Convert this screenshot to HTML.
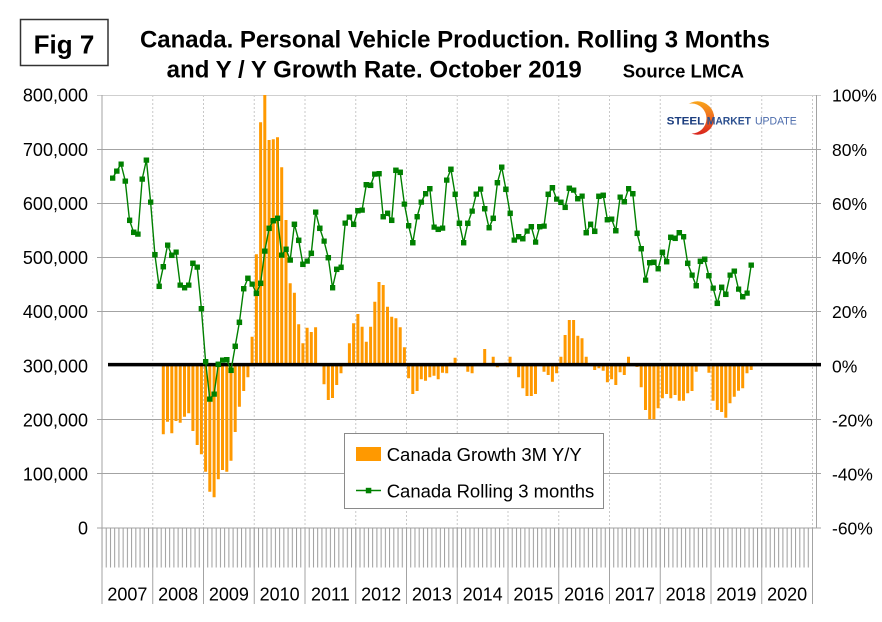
<!DOCTYPE html>
<html><head><meta charset="utf-8"><style>
html,body{margin:0;padding:0;background:#fff;}
svg{display:block;font-family:"Liberation Sans",Arial,sans-serif;}
</style></head><body>
<svg width="882" height="622" viewBox="0 0 882 622" xmlns="http://www.w3.org/2000/svg">
<defs>
<pattern id="mt" x="101.5" y="0" width="4.2292" height="200" patternUnits="userSpaceOnUse"><rect x="0" y="0" width="1" height="200" fill="#9c9c9c"/></pattern>
<marker id="sq" markerWidth="6" markerHeight="6" refX="2.75" refY="2.75" markerUnits="userSpaceOnUse"><rect x="0" y="0" width="5.5" height="5.5" fill="#008000"/></marker>
<linearGradient id="lg" x1="0" y1="0" x2="0" y2="1"><stop offset="0" stop-color="#f9a51a"/><stop offset="0.5" stop-color="#ef6a1f"/><stop offset="1" stop-color="#d8231d"/></linearGradient>
<mask id="cm"><rect x="670" y="95" width="60" height="50" fill="#fff"/><circle cx="691.5" cy="118.5" r="15" fill="#000"/></mask>
</defs>
<rect width="882" height="622" fill="#fff"/>

<!-- Fig box -->
<rect x="20.5" y="19.5" width="87.5" height="46" fill="none" stroke="#333" stroke-width="1.5"/>
<text x="64" y="53.5" font-size="26" font-weight="bold" text-anchor="middle" fill="#000">Fig 7</text>

<!-- Title -->
<text x="140" y="47.3" font-size="24" font-weight="bold" fill="#000" textLength="630" lengthAdjust="spacingAndGlyphs">Canada. Personal Vehicle Production. Rolling 3 Months</text>
<text x="166.7" y="77.3" font-size="24" font-weight="bold" fill="#000" textLength="415" lengthAdjust="spacingAndGlyphs">and Y / Y Growth Rate. October 2019</text>
<text x="622.7" y="77.3" font-size="18.5" font-weight="bold" fill="#000" textLength="121.3" lengthAdjust="spacingAndGlyphs">Source LMCA</text>

<!-- vertical dotted gridlines -->
<g stroke="#c8c8c8" stroke-width="1" stroke-dasharray="2,2">
<line x1="152.75" y1="95" x2="152.75" y2="528"/><line x1="203.5" y1="95" x2="203.5" y2="528"/><line x1="254.25" y1="95" x2="254.25" y2="528"/><line x1="305" y1="95" x2="305" y2="528"/><line x1="355.75" y1="95" x2="355.75" y2="528"/><line x1="406.5" y1="95" x2="406.5" y2="528"/><line x1="457.25" y1="95" x2="457.25" y2="528"/><line x1="508" y1="95" x2="508" y2="528"/><line x1="558.75" y1="95" x2="558.75" y2="528"/><line x1="609.5" y1="95" x2="609.5" y2="528"/><line x1="660.25" y1="95" x2="660.25" y2="528"/><line x1="711" y1="95" x2="711" y2="528"/><line x1="761.75" y1="95" x2="761.75" y2="528"/><line x1="812.5" y1="95" x2="812.5" y2="528"/>
</g>
<!-- horizontal gridlines -->
<line x1="97" y1="95.5" x2="821" y2="95.5" stroke="#cfcfcf" stroke-width="1"/>
<g stroke="#a3a3a3" stroke-width="1">
<line x1="97" y1="149.5" x2="821" y2="149.5"/><line x1="97" y1="203.5" x2="821" y2="203.5"/><line x1="97" y1="257.5" x2="821" y2="257.5"/><line x1="97" y1="311.5" x2="821" y2="311.5"/><line x1="97" y1="419.5" x2="821" y2="419.5"/><line x1="97" y1="473.5" x2="821" y2="473.5"/><line x1="97" y1="528" x2="821" y2="528"/>
<line x1="102" y1="95" x2="102" y2="604"/><line x1="816.5" y1="95" x2="816.5" y2="528"/>
</g>
<!-- month ticks -->
<rect x="101.5" y="528" width="711" height="39.5" fill="url(#mt)"/>
<g stroke="#a3a3a3" stroke-width="1">
<line x1="152.75" y1="528" x2="152.75" y2="604"/><line x1="203.5" y1="528" x2="203.5" y2="604"/><line x1="254.25" y1="528" x2="254.25" y2="604"/><line x1="305" y1="528" x2="305" y2="604"/><line x1="355.75" y1="528" x2="355.75" y2="604"/><line x1="406.5" y1="528" x2="406.5" y2="604"/><line x1="457.25" y1="528" x2="457.25" y2="604"/><line x1="508" y1="528" x2="508" y2="604"/><line x1="558.75" y1="528" x2="558.75" y2="604"/><line x1="609.5" y1="528" x2="609.5" y2="604"/><line x1="660.25" y1="528" x2="660.25" y2="604"/><line x1="711" y1="528" x2="711" y2="604"/><line x1="761.75" y1="528" x2="761.75" y2="604"/><line x1="812.5" y1="528" x2="812.5" y2="604"/>
</g>

<!-- left labels -->
<g font-size="18" fill="#000" text-anchor="end">
<text x="88" y="101.7">800,000</text><text x="88" y="155.8">700,000</text><text x="88" y="209.9">600,000</text><text x="88" y="264">500,000</text><text x="88" y="318.2">400,000</text><text x="88" y="372.3">300,000</text><text x="88" y="426.4">200,000</text><text x="88" y="480.5">100,000</text><text x="88" y="534.7">0</text>
</g>
<!-- right labels -->
<g font-size="17.5" fill="#000">
<text x="832" y="101.7">100%</text><text x="832" y="155.8">80%</text><text x="832" y="209.9">60%</text><text x="832" y="264">40%</text><text x="832" y="318.2">20%</text><text x="832" y="372.3">0%</text><text x="832" y="426.4">-20%</text><text x="832" y="480.5">-40%</text><text x="832" y="534.7">-60%</text>
</g>
<!-- year labels -->
<g font-size="18" fill="#000" text-anchor="middle">
<text x="127.4" y="600.5">2007</text><text x="178.1" y="600.5">2008</text><text x="228.9" y="600.5">2009</text><text x="279.6" y="600.5">2010</text><text x="330.4" y="600.5">2011</text><text x="381.1" y="600.5">2012</text><text x="431.9" y="600.5">2013</text><text x="482.6" y="600.5">2014</text><text x="533.4" y="600.5">2015</text><text x="584.1" y="600.5">2016</text><text x="634.9" y="600.5">2017</text><text x="685.6" y="600.5">2018</text><text x="736.4" y="600.5">2019</text><text x="787.1" y="600.5">2020</text>
</g>

<!-- logo -->
<circle cx="697.5" cy="118" r="16.7" fill="url(#lg)" mask="url(#cm)"/>
<text x="666.7" y="124.3" font-size="11" font-weight="bold" fill="#1b3d7e" textLength="37.6" lengthAdjust="spacingAndGlyphs">STEEL</text>
<text x="706.7" y="124.3" font-size="11" font-weight="bold" fill="#2b4f8f" textLength="44.3" lengthAdjust="spacingAndGlyphs">MARKET</text>
<text x="755" y="124.3" font-size="11" fill="#4a6aab" textLength="41.7" lengthAdjust="spacingAndGlyphs">UPDATE</text>

<!-- bars -->
<path fill="#ff9900" d="M161.8 365.6V434.3h3V365.6Z M166 365.6V421.7h3V365.6Z M170.3 365.6V433.3h3V365.6Z M174.5 365.6V421h3V365.6Z M178.7 365.6V422.7h3V365.6Z M183 365.6V416.7h3V365.6Z M187.2 365.6V413.3h3V365.6Z M191.4 365.6V431h3V365.6Z M195.7 365.6V445h3V365.6Z M199.9 365.6V454.3h3V365.6Z M204.1 365.6V471.7h3V365.6Z M208.3 365.6V491.7h3V365.6Z M212.6 365.6V497.3h3V365.6Z M216.8 365.6V479.3h3V365.6Z M221 365.6V470h3V365.6Z M225.3 365.6V471.7h3V365.6Z M229.5 365.6V460.7h3V365.6Z M233.7 365.6V432h3V365.6Z M237.9 365.6V406.7h3V365.6Z M242.2 365.6V391h3V365.6Z M246.4 365.6V377.3h3V365.6Z M250.6 365.6V336.7h3V365.6Z M254.9 365.6V254.3h3V365.6Z M259.1 365.6V122.3h3V365.6Z M263.3 365.6V95h3V365.6Z M267.6 365.6V140h3V365.6Z M271.8 365.6V139.3h3V365.6Z M276 365.6V137.3h3V365.6Z M280.2 365.6V167.3h3V365.6Z M284.5 365.6V220h3V365.6Z M288.7 365.6V283.3h3V365.6Z M292.9 365.6V292.7h3V365.6Z M297.2 365.6V324.3h3V365.6Z M301.4 365.6V343.3h3V365.6Z M305.6 365.6V327.7h3V365.6Z M309.8 365.6V332h3V365.6Z M314.1 365.6V327.3h3V365.6Z M322.5 365.6V384.3h3V365.6Z M326.8 365.6V400h3V365.6Z M331 365.6V398h3V365.6Z M335.2 365.6V385h3V365.6Z M339.5 365.6V373.3h3V365.6Z M347.9 365.6V343.3h3V365.6Z M352.1 365.6V323.3h3V365.6Z M356.4 365.6V314h3V365.6Z M360.6 365.6V326.7h3V365.6Z M364.8 365.6V341.7h3V365.6Z M369.1 365.6V326.7h3V365.6Z M373.3 365.6V301.7h3V365.6Z M377.5 365.6V282h3V365.6Z M381.7 365.6V285h3V365.6Z M386 365.6V306.7h3V365.6Z M390.2 365.6V316.7h3V365.6Z M394.4 365.6V318.3h3V365.6Z M398.7 365.6V327.3h3V365.6Z M402.9 365.6V347.3h3V365.6Z M407.1 365.6V378.3h3V365.6Z M411.3 365.6V394h3V365.6Z M415.6 365.6V391h3V365.6Z M419.8 365.6V379.3h3V365.6Z M424 365.6V380.7h3V365.6Z M428.3 365.6V377.3h3V365.6Z M432.5 365.6V375.7h3V365.6Z M436.7 365.6V379.3h3V365.6Z M441 365.6V372.7h3V365.6Z M445.2 365.6V373.3h3V365.6Z M449.4 365.6V362.7h3V365.6Z M453.6 365.6V357.7h3V365.6Z M466.3 365.6V371.7h3V365.6Z M470.6 365.6V373.3h3V365.6Z M474.8 365.6V363.3h3V365.6Z M483.2 365.6V349h3V365.6Z M491.7 365.6V356.7h3V365.6Z M495.9 365.6V367.3h3V365.6Z M504.4 365.6V362.7h3V365.6Z M508.6 365.6V356.7h3V365.6Z M517.1 365.6V377.3h3V365.6Z M521.3 365.6V388.3h3V365.6Z M525.5 365.6V396h3V365.6Z M529.8 365.6V396h3V365.6Z M534 365.6V394h3V365.6Z M542.5 365.6V371.7h3V365.6Z M546.7 365.6V375h3V365.6Z M550.9 365.6V381.7h3V365.6Z M555.1 365.6V373.3h3V365.6Z M559.4 365.6V356.7h3V365.6Z M563.6 365.6V335h3V365.6Z M567.8 365.6V320h3V365.6Z M572.1 365.6V320h3V365.6Z M576.3 365.6V335.7h3V365.6Z M580.5 365.6V338.3h3V365.6Z M584.7 365.6V356.7h3V365.6Z M589 365.6V363.3h3V365.6Z M593.2 365.6V370h3V365.6Z M597.4 365.6V368.3h3V365.6Z M601.7 365.6V370.7h3V365.6Z M605.9 365.6V382.3h3V365.6Z M610.1 365.6V379.3h3V365.6Z M614.3 365.6V385h3V365.6Z M618.6 365.6V372.3h3V365.6Z M622.8 365.6V375h3V365.6Z M627 365.6V356.7h3V365.6Z M631.3 365.6V363.3h3V365.6Z M635.5 365.6V367h3V365.6Z M639.7 365.6V387.3h3V365.6Z M644 365.6V410h3V365.6Z M648.2 365.6V419.3h3V365.6Z M652.4 365.6V419.3h3V365.6Z M656.6 365.6V408.3h3V365.6Z M660.9 365.6V398.3h3V365.6Z M665.1 365.6V394h3V365.6Z M669.3 365.6V398.3h3V365.6Z M673.6 365.6V395h3V365.6Z M677.8 365.6V400.7h3V365.6Z M682 365.6V400.7h3V365.6Z M686.2 365.6V393.3h3V365.6Z M690.5 365.6V391h3V365.6Z M694.7 365.6V371.7h3V365.6Z M703.2 365.6V363.3h3V365.6Z M707.4 365.6V372.7h3V365.6Z M711.6 365.6V400.7h3V365.6Z M715.8 365.6V410h3V365.6Z M720.1 365.6V412h3V365.6Z M724.3 365.6V417.7h3V365.6Z M728.5 365.6V403.3h3V365.6Z M732.8 365.6V396.7h3V365.6Z M737 365.6V390.7h3V365.6Z M741.2 365.6V388.3h3V365.6Z M745.5 365.6V373.3h3V365.6Z M749.7 365.6V370h3V365.6Z"/>

<!-- zero line -->
<line x1="108" y1="364.6" x2="821" y2="364.6" stroke="#000" stroke-width="3.5"/>

<!-- green line -->
<polyline fill="none" stroke="#008000" stroke-width="1.4" stroke-linejoin="round" marker-start="url(#sq)" marker-mid="url(#sq)" marker-end="url(#sq)" points="112.6,178 116.8,171 121.0,164 125.3,181 129.5,220.3 133.7,232.3 137.9,234 142.2,179 146.4,160 150.6,202 154.9,254.7 159.1,286.3 163.3,266.7 167.6,245 171.8,255.3 176.0,252 180.2,285 184.5,287.7 188.7,285 192.9,263.3 197.2,267 201.4,308.7 205.6,361.7 209.8,399 214.1,394 218.3,364.3 222.5,360 226.8,359.7 231.0,370.3 235.2,346.3 239.4,322.3 243.7,288.7 247.9,278.3 252.1,284 256.4,293.3 260.6,283.3 264.8,251 269.1,228.3 273.3,220.7 277.5,218.3 281.7,255 286.0,249.3 290.2,260 294.4,224.3 298.7,240.3 302.9,264.3 307.1,261 311.3,253.3 315.6,212 319.8,228.3 324.0,241 328.3,257.7 332.5,287.7 336.7,269.3 341.0,267.3 345.2,223 349.4,217 353.6,224.3 357.9,210.7 362.1,210 366.3,184.7 370.6,185.3 374.8,174 379.0,173.7 383.2,216.7 387.5,213.3 391.7,220.3 395.9,170.3 400.2,172.3 404.4,204 408.6,225.7 412.8,242.7 417.1,216.7 421.3,202 425.5,193.7 429.8,188.7 434.0,227 438.2,229.3 442.5,228 446.7,180 450.9,169.3 455.1,194.3 459.4,223.3 463.6,242.7 467.8,223.3 472.1,211 476.3,194 480.5,189 484.7,208.7 489.0,227.7 493.2,218.3 497.4,182.7 501.7,167 505.9,189.3 510.1,213.3 514.3,240 518.6,236.7 522.8,238.7 527.0,231 531.3,226.7 535.5,242 539.7,226.7 544.0,226 548.2,194.3 552.4,187.7 556.6,199 560.9,202.3 565.1,207.3 569.3,188.3 573.6,190 577.8,198.7 582.0,196 586.2,232.7 590.5,224.3 594.7,231.3 598.9,196.3 603.2,195.3 607.4,219.7 611.6,219 615.8,230.7 620.1,197 624.3,201.7 628.5,188.7 632.8,193.7 637.0,233.3 641.2,248.7 645.5,280 649.7,262.7 653.9,262.3 658.1,268.7 662.4,252.3 666.6,261.7 670.8,237.3 675.1,238.3 679.3,232.7 683.5,236.7 687.7,263.3 692.0,275 696.2,285.7 700.4,261.3 704.7,259.3 708.9,275.7 713.1,288 717.3,303.3 721.6,287.3 725.8,294.3 730.0,275 734.3,271 738.5,289 742.7,296.7 747.0,293 751.2,265"/>

<!-- legend -->
<rect x="344.5" y="433.5" width="259" height="75" fill="#fff" stroke="#8a8a8a" stroke-width="1"/>
<rect x="356" y="447" width="25" height="14" fill="#ff9900"/>
<text x="386.7" y="461" font-size="18.5" fill="#000" textLength="195" lengthAdjust="spacingAndGlyphs">Canada Growth 3M Y/Y</text>
<line x1="356" y1="490.5" x2="381" y2="490.5" stroke="#008000" stroke-width="1.4"/>
<rect x="365.8" y="487.8" width="5.5" height="5.5" fill="#008000"/>
<text x="386.7" y="497.3" font-size="18.5" fill="#000" textLength="207.6" lengthAdjust="spacingAndGlyphs">Canada Rolling 3 months</text>
</svg>
</body></html>
